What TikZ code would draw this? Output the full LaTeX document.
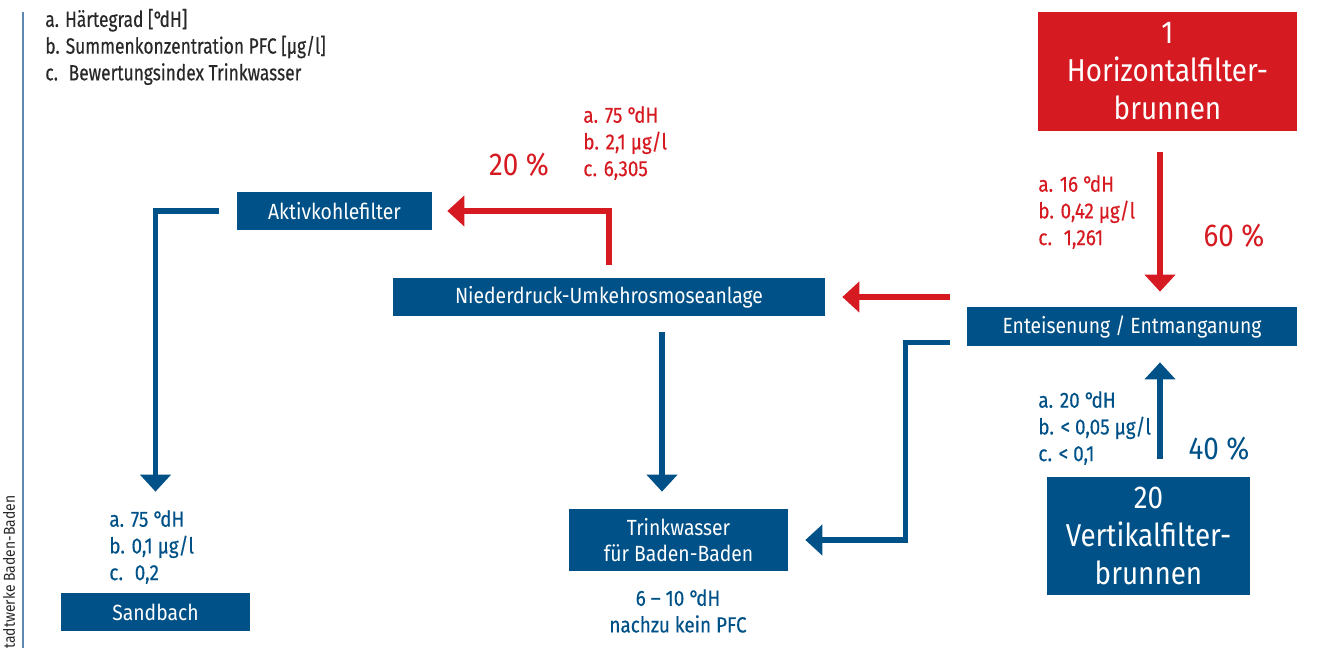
\documentclass[tikz,border=0pt]{standalone}
\usepackage{fontspec}
\setmainfont{Fira Sans}[FakeStretch=0.88]
\newfontfamily\medfont{Fira Sans}[FakeStretch=0.86, FakeBold=0.35]
\newfontfamily\legfont{Fira Sans}[FakeStretch=0.79, FakeBold=0.35]
\usetikzlibrary{arrows.meta,calc}
\definecolor{sbblue}{RGB}{0,81,135}
\definecolor{sbred}{RGB}{214,26,33}
\definecolor{textgray}{RGB}{40,40,40}
\definecolor{linegray}{RGB}{95,135,180}
\newcommand{\lblsize}{\fontsize{12.5}{15.2}\selectfont}
\newcommand{\bigsize}{\fontsize{18}{21.6}\selectfont}
\newcommand{\dgH}{°\kern-0.14em dH}

\begin{document}
\begin{tikzpicture}[
    x=0.02cm, y=-0.02cm,
    box/.style={fill=sbblue, text=white, inner sep=0pt, align=center, font=\lblsize},
    well/.style={text=white, inner sep=0pt, align=center, font=\bigsize, minimum height=2.37cm},
    vals/.style={anchor=west, align=left, inner sep=0pt, font=\medfont\lblsize},
    pct/.style={font=\bigsize, inner sep=0pt},
    arr/.style={-{Triangle[length=0.34cm, width=0.6cm]}, line width=3.1pt}
]
\useasboundingbox (0,0) rectangle (1325,648);

% Rand und Quelle
\draw[linegray, line width=1.2pt] (23,12) -- (23,648);
\node[rotate=90, anchor=west, inner sep=0pt, text=textgray, font=\fontsize{9}{11}\selectfont] (credit) at (9,649) {tadtwerke Baden-Baden};

% Legende
\node[vals, text=textgray, font=\legfont\lblsize] (legend) at (45,47) {a. Härtegrad [\dgH]\\b. Summenkonzentration PFC [µg/l]\\c.~ Bewertungsindex Trinkwasser};

% Brunnen
\node[well, fill=sbred, minimum width=5.18cm] (hfb) at (1167.5,71.5) {1\\Horizontalfilter-\\brunnen};
\node[well, fill=sbblue, minimum width=4.06cm] (vfb) at (1148.5,536) {20\\Vertikalfilter-\\brunnen};

% Anlagen
\node[box, minimum width=3.9cm, minimum height=0.76cm] (aktiv) at (334.5,211) {Aktivkohlefilter};
\node[box, minimum width=8.64cm, minimum height=0.76cm] (nd) at (609,297) {Niederdruck-Umkehrosmoseanlage};
\node[box, minimum width=6.6cm, minimum height=0.78cm] (enteis) at (1132,326.5) {Enteisenung / Entmanganung};
\node[box, minimum width=4.38cm, minimum height=1.24cm] (trink) at (678.5,540) {Trinkwasser\\für Baden-Baden};
\node[box, minimum width=3.78cm, minimum height=0.76cm] (sand) at (155.5,612) {Sandbach};

% Werte
\node[vals, text=sbred] (vnd) at (583,143) {a. 75 \dgH\\b. 2,1 µg/l\\c. 6,305};
\node[vals, text=sbred] (vhfb) at (1038,212) {a. 16 \dgH\\b. 0,42 µg/l\\c.~ 1,261};
\node[vals, text=sbblue] (vvfb) at (1038,428) {a. 20 \dgH\\b. < 0,05 µg/l\\c. < 0,1};
\node[vals, text=sbblue] (vsand) at (109,547) {a. 75 \dgH\\b. 0,1 µg/l\\c.~ 0,2};
\node[inner sep=0pt, align=center, text=sbblue, font=\medfont\lblsize] (tinfo) at (678,611) {6 – 10 \dgH\\nachzu kein PFC};

\node[pct, text=sbred] (p20) at (519,165) {20 \%};
\node[pct, text=sbred] (p60) at (1234,236) {60 \%};
\node[pct, text=sbblue] (p40) at (1219,449) {40 \%};

% Pfeile
\coordinate (wellcol) at (1160,0);
\coordinate (downcol) at (662,0);
\draw[arr, sbred, shorten <=0.42cm, shorten >=0.3cm] (hfb.south -| wellcol) -- (enteis.north -| wellcol);
\draw[arr, sbblue, shorten <=0.34cm, shorten >=0.32cm] (vfb.north -| wellcol) -- (enteis.south -| wellcol);
\draw[arr, sbred, shorten <=0.34cm, shorten >=0.34cm] (enteis.west |- nd) -- (nd.east);
\draw[arr, sbblue, shorten >=0.34cm] ($(enteis.south west)+(-17,-4)$) -- ++(-44,0) |- (trink.east);
\draw[arr, sbred, shorten >=0.3cm] ($(nd.north)+(0,-13)$) |- (aktiv.east);
\draw[arr, sbblue, shorten <=0.32cm, shorten >=0.34cm] (nd.south -| downcol) -- (trink.north -| downcol);
\draw[arr, sbblue, shorten >=2.02cm] ($(aktiv.west)+(-18,0)$) -| (sand.north);
\end{tikzpicture}
\end{document}
